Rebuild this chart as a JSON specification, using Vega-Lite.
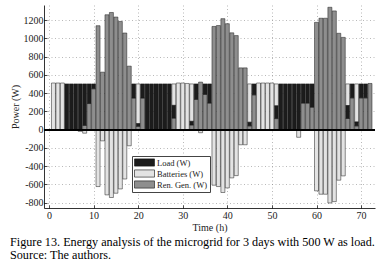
{
  "$schema": "https://vega.github.io/schema/vega-lite/v6.json",
  "width": 331,
  "height": 203,
  "autosize": "none",
  "padding": {"left": 44, "top": 5, "right": 12, "bottom": 63},
  "background": "white",
  "config": {"font": "Liberation Serif", "view": {"stroke": null}, "axis": {"labelOverlap": false}, "axisY": {"labelOverlap": false}},
  "title": {
    "text": ["Figure 13. Energy analysis of the microgrid for 3 days with 500 W as load.", "Source: The authors."],
    "orient": "bottom", "anchor": "start", "frame": "bounds",
    "fontSize": 12.2, "fontWeight": "normal", "font": "Liberation Serif", "color": "#000",
    "lineHeight": 12.5, "offset": 4
  },
  "data": {"values": [
    {"h":1,"s":"Batteries (W)","v":510},
    {"h":2,"s":"Batteries (W)","v":510},
    {"h":3,"s":"Batteries (W)","v":510},
    {"h":4,"s":"Load (W)","v":500},
    {"h":5,"s":"Load (W)","v":500},
    {"h":6,"s":"Load (W)","v":500},
    {"h":7,"s":"Load (W)","v":500},{"h":7,"s":"Batteries (W)","v":-20},
    {"h":8,"s":"Ren. Gen. (W)","v":45},{"h":8,"s":"Load (W)","v":455},{"h":8,"s":"Batteries (W)","v":-40},
    {"h":9,"s":"Ren. Gen. (W)","v":285},{"h":9,"s":"Load (W)","v":215},
    {"h":10,"s":"Ren. Gen. (W)","v":447},{"h":10,"s":"Load (W)","v":53},
    {"h":11,"s":"Ren. Gen. (W)","v":1138},{"h":11,"s":"Batteries (W)","v":-625},
    {"h":12,"s":"Ren. Gen. (W)","v":629},{"h":12,"s":"Batteries (W)","v":-124},
    {"h":13,"s":"Ren. Gen. (W)","v":1258},{"h":13,"s":"Batteries (W)","v":-716},
    {"h":14,"s":"Ren. Gen. (W)","v":1283},{"h":14,"s":"Batteries (W)","v":-745},
    {"h":15,"s":"Ren. Gen. (W)","v":1233},{"h":15,"s":"Batteries (W)","v":-698},
    {"h":16,"s":"Ren. Gen. (W)","v":1185},{"h":16,"s":"Batteries (W)","v":-651},
    {"h":17,"s":"Ren. Gen. (W)","v":1058},{"h":17,"s":"Batteries (W)","v":-542},
    {"h":18,"s":"Ren. Gen. (W)","v":695},{"h":18,"s":"Batteries (W)","v":-178},
    {"h":19,"s":"Ren. Gen. (W)","v":345},{"h":19,"s":"Load (W)","v":155},
    {"h":20,"s":"Ren. Gen. (W)","v":35},{"h":20,"s":"Batteries (W)","v":435},{"h":20,"s":"Load (W)","v":30},
    {"h":21,"s":"Ren. Gen. (W)","v":345},{"h":21,"s":"Load (W)","v":155},
    {"h":22,"s":"Load (W)","v":500},
    {"h":23,"s":"Load (W)","v":500},
    {"h":24,"s":"Load (W)","v":500},
    {"h":25,"s":"Load (W)","v":500},
    {"h":26,"s":"Load (W)","v":500},
    {"h":27,"s":"Load (W)","v":500},
    {"h":28,"s":"Ren. Gen. (W)","v":125},{"h":28,"s":"Batteries (W)","v":235},{"h":28,"s":"Load (W)","v":140},
    {"h":29,"s":"Batteries (W)","v":510},
    {"h":30,"s":"Batteries (W)","v":510},
    {"h":31,"s":"Batteries (W)","v":505},
    {"h":32,"s":"Ren. Gen. (W)","v":50},{"h":32,"s":"Batteries (W)","v":410},{"h":32,"s":"Load (W)","v":40},
    {"h":33,"s":"Ren. Gen. (W)","v":330},{"h":33,"s":"Load (W)","v":170},
    {"h":34,"s":"Ren. Gen. (W)","v":520},{"h":34,"s":"Batteries (W)","v":-35},
    {"h":35,"s":"Ren. Gen. (W)","v":385},{"h":35,"s":"Load (W)","v":115},
    {"h":36,"s":"Ren. Gen. (W)","v":290},{"h":36,"s":"Load (W)","v":210},
    {"h":37,"s":"Ren. Gen. (W)","v":1130},{"h":37,"s":"Batteries (W)","v":-610},
    {"h":38,"s":"Ren. Gen. (W)","v":1140},{"h":38,"s":"Batteries (W)","v":-625},
    {"h":39,"s":"Ren. Gen. (W)","v":1215},{"h":39,"s":"Batteries (W)","v":-690},
    {"h":40,"s":"Ren. Gen. (W)","v":1160},{"h":40,"s":"Batteries (W)","v":-640},
    {"h":41,"s":"Ren. Gen. (W)","v":1060},{"h":41,"s":"Batteries (W)","v":-530},
    {"h":42,"s":"Ren. Gen. (W)","v":1030},{"h":42,"s":"Batteries (W)","v":-505},
    {"h":43,"s":"Ren. Gen. (W)","v":676},{"h":43,"s":"Batteries (W)","v":-167},
    {"h":44,"s":"Ren. Gen. (W)","v":676},{"h":44,"s":"Batteries (W)","v":-167},
    {"h":45,"s":"Ren. Gen. (W)","v":40},{"h":45,"s":"Batteries (W)","v":420},{"h":45,"s":"Load (W)","v":40},
    {"h":46,"s":"Ren. Gen. (W)","v":380},{"h":46,"s":"Load (W)","v":120},
    {"h":47,"s":"Batteries (W)","v":510},
    {"h":48,"s":"Batteries (W)","v":510},
    {"h":49,"s":"Batteries (W)","v":510},
    {"h":50,"s":"Batteries (W)","v":510},
    {"h":51,"s":"Ren. Gen. (W)","v":120},{"h":51,"s":"Batteries (W)","v":240},{"h":51,"s":"Load (W)","v":140},
    {"h":52,"s":"Load (W)","v":500},
    {"h":53,"s":"Load (W)","v":500},
    {"h":54,"s":"Load (W)","v":500},
    {"h":55,"s":"Load (W)","v":500},
    {"h":56,"s":"Load (W)","v":500},{"h":56,"s":"Batteries (W)","v":-85},
    {"h":57,"s":"Ren. Gen. (W)","v":290},{"h":57,"s":"Load (W)","v":210},
    {"h":58,"s":"Ren. Gen. (W)","v":290},{"h":58,"s":"Load (W)","v":210},
    {"h":59,"s":"Ren. Gen. (W)","v":245},{"h":59,"s":"Load (W)","v":255},
    {"h":60,"s":"Ren. Gen. (W)","v":1175},{"h":60,"s":"Batteries (W)","v":-672},
    {"h":61,"s":"Ren. Gen. (W)","v":1220},{"h":61,"s":"Batteries (W)","v":-709},
    {"h":62,"s":"Ren. Gen. (W)","v":1220},{"h":62,"s":"Batteries (W)","v":-709},
    {"h":63,"s":"Ren. Gen. (W)","v":1340},{"h":63,"s":"Batteries (W)","v":-805},
    {"h":64,"s":"Ren. Gen. (W)","v":1300},{"h":64,"s":"Batteries (W)","v":-790},
    {"h":65,"s":"Ren. Gen. (W)","v":1055},{"h":65,"s":"Batteries (W)","v":-555},
    {"h":66,"s":"Ren. Gen. (W)","v":1010},{"h":66,"s":"Batteries (W)","v":-508},
    {"h":67,"s":"Ren. Gen. (W)","v":121},{"h":67,"s":"Batteries (W)","v":237},{"h":67,"s":"Load (W)","v":142},
    {"h":68,"s":"Ren. Gen. (W)","v":347},{"h":68,"s":"Load (W)","v":153},
    {"h":69,"s":"Ren. Gen. (W)","v":40},{"h":69,"s":"Batteries (W)","v":417},{"h":69,"s":"Load (W)","v":43},
    {"h":70,"s":"Ren. Gen. (W)","v":347},{"h":70,"s":"Load (W)","v":153},
    {"h":71,"s":"Ren. Gen. (W)","v":347},{"h":71,"s":"Load (W)","v":153},
    {"h":72,"s":"Ren. Gen. (W)","v":505}
  ]},
  "layer": [
    {
      "mark": {"type": "bar", "orient": "vertical", "width": 4, "stroke": "#1a1a1a", "strokeWidth": 0.5, "clip": true},
      "encoding": {
        "x": {
          "field": "h", "type": "quantitative", "title": "Time (h)",
          "scale": {"domain": [0, 72], "nice": false, "zero": false},
          "axis": {
            "values": [0,10,20,30,40,50,60,70], "grid": true, "gridDash": [1,2.5], "gridColor": "#8a8a8a", "gridWidth": 0.6,
            "domainColor": "#000", "domainWidth": 0.8, "ticks": true, "tickSize": -3, "tickColor": "#000", "tickWidth": 0.7, "labelPadding": 5, "labelOverlap": false,
            "labelFont": "Liberation Serif", "labelFontSize": 10, "labelColor": "#222",
            "titleFont": "Liberation Serif", "titleFontSize": 10, "titleFontWeight": "normal", "titleColor": "#222", "titlePadding": 2
          }
        },
        "y": {
          "field": "v", "type": "quantitative", "stack": "zero", "title": "Power (W)",
          "scale": {"domain": [-860, 1365], "nice": false},
          "axis": {
            "values": [-800,-600,-400,-200,0,200,400,600,800,1000,1200], "grid": true, "gridDash": [1,2.5], "gridColor": "#8a8a8a", "gridWidth": 0.6,
            "domainColor": "#000", "domainWidth": 0.8, "ticks": true, "tickSize": -3, "tickColor": "#000", "tickWidth": 0.7, "labelPadding": 4, "labelOverlap": false, "labelSeparation": 0,
            "labelExpr": "'' + datum.value",
            "labelFont": "Liberation Serif", "labelFontSize": 10, "labelColor": "#222",
            "titleFont": "Liberation Serif", "titleFontSize": 10, "titleFontWeight": "normal", "titleColor": "#222", "titlePadding": 3
          }
        },
        "color": {
          "field": "s", "type": "nominal",
          "sort": ["Load (W)", "Batteries (W)", "Ren. Gen. (W)"],
          "scale": {"domain": ["Load (W)", "Batteries (W)", "Ren. Gen. (W)"], "range": ["#1c1c1c", "#e3e3e3", "#8e8e8e"]},
          "legend": {
            "orient": "none", "legendX": 88, "legendY": 151, "title": null,
            "symbolType": "M-2.5,-0.9H2.5V0.9H-2.5Z", "symbolSize": 64,
            "symbolStrokeColor": "#111", "symbolStrokeWidth": 0.6, "symbolOpacity": 1,
            "symbolOffset": 6, "labelOffset": 8,
            "labelFont": "Liberation Serif", "labelFontSize": 8.5, "labelColor": "#222",
            "padding": 2, "rowPadding": 0, "strokeColor": "#444", "fillColor": "white", "cornerRadius": 0
          }
        }
      }
    },
    {
      "mark": {"type": "rule", "color": "#000", "strokeWidth": 0.8},
      "encoding": {"y": {"datum": 0, "type": "quantitative", "axis": {"values": [-800,-600,-400,-200,0,200,400,600,800,1000,1200], "labelOverlap": false, "labelExpr": "'' + datum.value"}}}
    }
  ]
}
